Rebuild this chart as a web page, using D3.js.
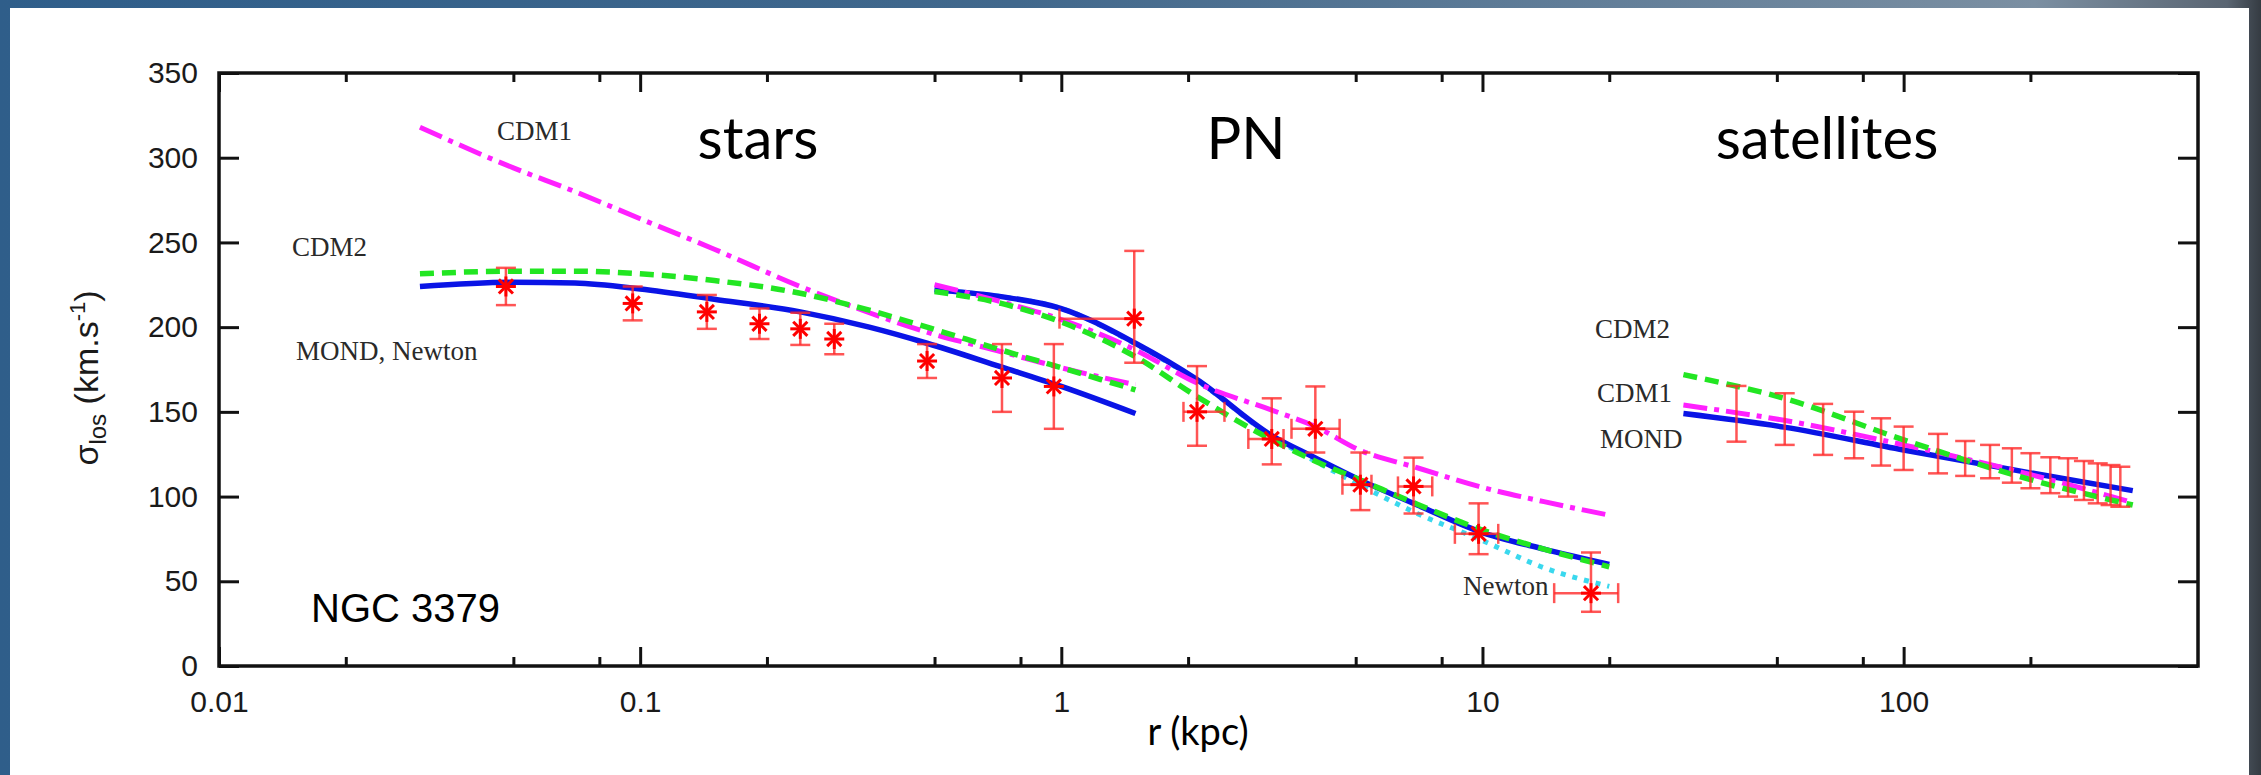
<!DOCTYPE html>
<html>
<head>
<meta charset="utf-8">
<script src="https://cdn.jsdelivr.net/npm/d3@7"></script>
<style>
  body { margin: 0; background: #2f5e8a; }
  svg { display: block; }
  .tick text { font-family: "Liberation Sans", Arial, sans-serif; font-size: 30px; fill: #1a1a1a; }
  .tick line { stroke: #111; stroke-width: 3px; }
  .domain { display: none; }
  .note { font-family: "Liberation Serif", "Times New Roman", serif; font-size: 27px; fill: #2a2a2a; }
  .region { font-family: Lato, "Open Sans", sans-serif; font-size: 58px; fill: #000; }
</style>
</head>
<body>
<svg width="2261" height="775"></svg>
<script>
// ---- data ----
// stars (velocity dispersion), r in kpc
var starR   = [0.048, 0.096, 0.144, 0.192, 0.240, 0.289, 0.480, 0.723, 0.960];
var starSig = [224, 214, 209, 202, 199, 193, 180, 170, 165];
var starErr = [11, 10, 10, 9, 9.5, 9, 10, 20, 25];

// planetary nebulae
var pnR     = [1.49, 2.10, 3.16, 4.01, 5.13, 6.86, 9.79, 18.1];
var pnSig   = [205, 150, 134, 140, 107, 106, 78, 43];
var pnSigLo = [179, 130, 119, 126, 92, 90, 66, 32];
var pnSigHi = [245, 177, 158, 165, 126, 123, 96, 67];
var pnRLo   = [0.99, 1.95, 2.78, 3.52, 4.65, 6.3, 8.6, 14.8];
var pnRHi   = [1.49, 2.44, 3.37, 4.58, 5.45, 7.6, 10.9, 21.0];

// satellites (error bars only)
var satR  = [40.1, 52.2, 64.4, 76.3, 88.4, 100, 120.7, 140, 160.4, 180.7, 200, 223, 245.7, 268, 289, 310, 327];
var satLo = [132.4, 130.5, 124.6, 122.6, 118.3, 115.7, 113.7, 112.2, 110.8, 108.2, 104.9, 102, 100, 98, 96, 95, 94];
var satHi = [165.3, 161, 154.7, 150.1, 146.2, 141.3, 137, 132.8, 130.5, 128.5, 125.6, 123.2, 122.6, 121, 119.6, 118.6, 117.6];

// model curves, sampled on each region's grid
var starsGrid  = [0.03, 0.05, 0.07, 0.1, 0.15, 0.24, 0.35, 0.48, 0.72, 1.0, 1.5];
var mondStars  = [224, 226.5, 226, 222.5, 216.5, 209, 200, 190.5, 176.5, 165, 149];
var cdm2Stars  = [231.5, 233, 233, 231.5, 227.5, 220, 210, 200, 186.5, 176, 163];
var cdm1Stars  = [318, 294, 280, 264, 246, 224, 208.5, 197, 185.5, 176, 166];

var pnGrid     = [0.5, 0.72, 1.0, 1.5, 2.1, 3.16, 4.0, 5.1, 7.0, 9.8, 14, 20];
var mondPN     = [222, 218, 211, 190.5, 169, 136, 123, 110, 95, 79.5, 69, 60];
var cdm2PN     = [221, 214, 203, 182.5, 159, 133.5, 121, 110, 95.5, 81, 69, 58.5];
var cdm1PN     = [225, 215, 204.5, 186.5, 167, 151, 141.5, 127.5, 117, 106, 97, 89];
var newtonPN   = [222, 218, 211, 190, 168.5, 135.5, 121, 107, 90, 75, 58, 47];

var satGrid    = [30, 52, 100, 200, 350];
var mondSat    = [149, 141, 127.5, 114, 103.5];
var cdm2Sat    = [172, 158, 133.5, 110, 95];
var cdm1Sat    = [154, 145, 130.5, 113, 96.5];

var xMajor = [0.01, 0.1, 1, 10, 100];
var xMinor = [0.02, 0.05, 0.08, 0.2, 0.5, 0.8, 2, 5, 8, 20, 50, 80, 200];
var yTicks = [0, 50, 100, 150, 200, 250, 300, 350];

// ---- drawing ----
var svg = d3.select("svg"),
    width = +svg.attr("width"),
    height = +svg.attr("height");

var grad = svg.append("defs").append("linearGradient").attr("id", "bg");
grad.selectAll("stop")
  .data([[0, "#2f5e8a"], [0.45, "#41688c"], [0.9, "#7b8fa2"], [0.985, "#5a6572"], [1, "#353b42"]])
  .enter().append("stop")
    .attr("offset", function(d) { return d[0]; })
    .attr("stop-color", function(d) { return d[1]; });

svg.append("rect").attr("width", width).attr("height", height).attr("fill", "url(#bg)");
svg.append("rect").attr("x", 10).attr("y", 8).attr("width", 2239).attr("height", height - 8).attr("fill", "#fff");

var x = d3.scaleLog().domain([0.01, 500]).range([219, 2198]),
    y = d3.scaleLinear().domain([0, 350]).range([666, 73]);

var fmt = function(d) { return String(d); };

// axes: ticks point inward on all four sides
svg.append("g").attr("transform", "translate(0,666)")
    .call(d3.axisBottom(x).tickValues(xMajor).tickFormat(fmt).tickSize(-19).tickPadding(25));
svg.append("g").attr("transform", "translate(0,666)")
    .call(d3.axisBottom(x).tickValues(xMinor).tickFormat("").tickSize(-9));
svg.append("g").attr("transform", "translate(0,73)")
    .call(d3.axisTop(x).tickValues(xMajor).tickFormat("").tickSize(-19));
svg.append("g").attr("transform", "translate(0,73)")
    .call(d3.axisTop(x).tickValues(xMinor).tickFormat("").tickSize(-9));
svg.append("g").attr("transform", "translate(219,0)")
    .call(d3.axisLeft(y).tickValues(yTicks).tickSize(-20).tickPadding(21));
svg.append("g").attr("transform", "translate(2198,0)")
    .call(d3.axisRight(y).tickValues(yTicks).tickFormat("").tickSize(-20));

svg.append("rect")
    .attr("x", 219).attr("y", 73)
    .attr("width", 2198 - 219).attr("height", 666 - 73)
    .attr("fill", "none").attr("stroke", "#111").attr("stroke-width", 3.5);

// model curves
var line = d3.line()
    .x(function(d) { return x(d[0]); })
    .y(function(d) { return y(d[1]); })
    .curve(d3.curveMonotoneX);

var styles = {
  newton: { color: "#3ad8ee", width: 5, dash: "5,7" },
  mond:   { color: "#0a14e6", width: 5.5, dash: null },
  cdm1:   { color: "#ff20ff", width: 5, dash: "24,7,5,7" },
  cdm2:   { color: "#22e622", width: 5.5, dash: "14,8" }
};

var curves = [
  ["newton", pnGrid, newtonPN],
  ["mond", starsGrid, mondStars], ["mond", pnGrid, mondPN], ["mond", satGrid, mondSat],
  ["cdm1", starsGrid, cdm1Stars], ["cdm1", pnGrid, cdm1PN], ["cdm1", satGrid, cdm1Sat],
  ["cdm2", starsGrid, cdm2Stars], ["cdm2", pnGrid, cdm2PN], ["cdm2", satGrid, cdm2Sat]
];

svg.selectAll(".model")
  .data(curves)
  .enter().append("path")
    .attr("class", "model")
    .attr("fill", "none")
    .attr("stroke", function(d) { return styles[d[0]].color; })
    .attr("stroke-width", function(d) { return styles[d[0]].width; })
    .attr("stroke-dasharray", function(d) { return styles[d[0]].dash; })
    .attr("d", function(d) { return line(d[1].map(function(r, i) { return [r, d[2][i]]; })); });

// error bars
var bars = svg.append("g")
    .attr("stroke", "#ff2a2a").attr("stroke-opacity", 0.8)
    .attr("stroke-width", 2.5).attr("fill", "none");
var cap = 10;

function vbar(xr, lo, hi) {
  var px = x(xr);
  bars.append("line").attr("x1", px).attr("x2", px).attr("y1", y(lo)).attr("y2", y(hi));
  bars.append("line").attr("x1", px - cap).attr("x2", px + cap).attr("y1", y(lo)).attr("y2", y(lo));
  bars.append("line").attr("x1", px - cap).attr("x2", px + cap).attr("y1", y(hi)).attr("y2", y(hi));
}

function hbar(v, lo, hi) {
  var py = y(v);
  bars.append("line").attr("x1", x(lo)).attr("x2", x(hi)).attr("y1", py).attr("y2", py);
  [lo, hi].forEach(function(r, i) {
    if (i === 1 && hi === lo) return;
    bars.append("line").attr("x1", x(r)).attr("x2", x(r)).attr("y1", py - cap).attr("y2", py + cap);
  });
}

starR.forEach(function(r, i) { vbar(r, starSig[i] - starErr[i], starSig[i] + starErr[i]); });
pnR.forEach(function(r, i) {
  vbar(r, pnSigLo[i], pnSigHi[i]);
  if (pnRHi[i] > r) hbar(pnSig[i], pnRLo[i], pnRHi[i]);
  else hbar(pnSig[i], pnRLo[i], r);
});
satR.forEach(function(r, i) { vbar(r, satLo[i], satHi[i]); });

// asterisk markers
var points = starR.map(function(r, i) { return [r, starSig[i]]; })
    .concat(pnR.map(function(r, i) { return [r, pnSig[i]]; }));

var star = svg.selectAll(".pt")
  .data(points)
  .enter().append("g")
    .attr("class", "pt")
    .attr("transform", function(d) { return "translate(" + x(d[0]) + "," + y(d[1]) + ")"; })
    .attr("stroke", "#ff0000").attr("stroke-width", 3);
[0, 45, 90, 135].forEach(function(a) {
  star.append("line").attr("x1", -10).attr("x2", 10).attr("y1", 0).attr("y2", 0)
      .attr("transform", "rotate(" + a + ")");
});

// labels
var notes = [
  ["CDM1", 497, 140], ["CDM2", 292, 256], ["MOND, Newton", 296, 360],
  ["CDM2", 1595, 338], ["CDM1", 1597, 402], ["MOND", 1600, 448], ["Newton", 1463, 595]
];
svg.selectAll(".note")
  .data(notes)
  .enter().append("text")
    .attr("class", "note")
    .attr("x", function(d) { return d[1]; })
    .attr("y", function(d) { return d[2]; })
    .text(function(d) { return d[0]; });

var regions = [["stars", 758], ["PN", 1246], ["satellites", 1827]];
svg.selectAll(".region")
  .data(regions)
  .enter().append("text")
    .attr("class", "region")
    .attr("x", function(d) { return d[1]; })
    .attr("y", 159)
    .attr("text-anchor", "middle")
    .text(function(d) { return d[0]; });

svg.append("text")
    .attr("x", 311).attr("y", 622)
    .style("font-family", "'Liberation Sans', Arial, sans-serif")
    .style("font-size", "40px")
    .text("NGC 3379");

svg.append("text")
    .attr("x", 1198).attr("y", 745)
    .attr("text-anchor", "middle")
    .style("font-family", "Lato, 'Open Sans', sans-serif")
    .style("font-size", "38px")
    .text("r (kpc)");

var ylab = svg.append("text")
    .attr("transform", "translate(98,378) rotate(-90)")
    .attr("text-anchor", "middle")
    .style("font-family", "'Liberation Sans', Arial, sans-serif")
    .style("font-size", "34px")
    .style("fill", "#1a1a1a");
ylab.append("tspan").text("\u03c3");
ylab.append("tspan").attr("dy", 8).style("font-size", "24px").text("los");
ylab.append("tspan").attr("dy", -8).text(" (km.s");
ylab.append("tspan").attr("dy", -13).style("font-size", "22px").text("-1");
ylab.append("tspan").attr("dy", 13).text(")");
</script>
</body>
</html>
